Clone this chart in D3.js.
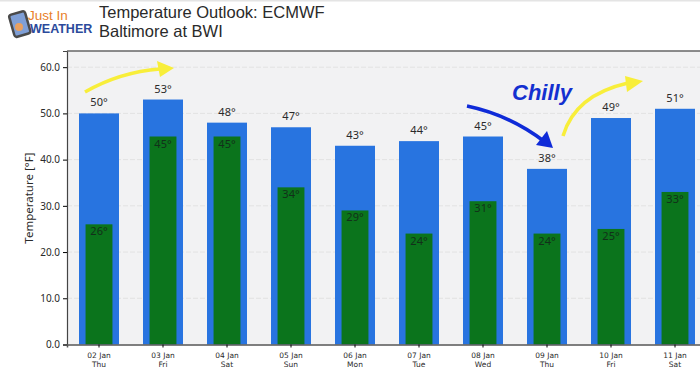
<!DOCTYPE html>
<html>
<head>
<meta charset="utf-8">
<script src="https://cdn.jsdelivr.net/npm/d3@7"></script>
<style>
  html, body { margin: 0; padding: 0; background: #fff; overflow: hidden; }
  svg { display: block; }
  text { font-family: "Noto Sans", sans-serif; fill: #2a2a2a; }
</style>
</head>
<body>
<div id="chart"></div>
<script>
var dates = ["02 Jan", "03 Jan", "04 Jan", "05 Jan", "06 Jan", "07 Jan", "08 Jan", "09 Jan", "10 Jan", "11 Jan"];
var days = ["Thu", "Fri", "Sat", "Sun", "Mon", "Tue", "Wed", "Thu", "Fri", "Sat"];
var highs = [50, 53, 48, 47, 43, 44, 45, 38, 49, 51];
var lows = [26, 45, 45, 34, 29, 24, 31, 24, 25, 33];
var yTicks = [0, 10, 20, 30, 40, 50, 60];

var svgWidth = 700;
var svgHeight = 367;

var margin = { top: 51, right: -7, bottom: 22.5, left: 67 };
var width = svgWidth - margin.left - margin.right;
var height = svgHeight - margin.top - margin.bottom;

var svg = d3.select("#chart")
  .append("svg")
  .attr("width", svgWidth)
  .attr("height", svgHeight);

// thin grey strip along the top of the picture
svg.append("rect").attr("width", svgWidth).attr("height", 1.5).attr("fill", "#e4e4e4");

var chartGroup = svg.append("g")
  .attr("transform", `translate(${margin.left}, ${margin.top})`);

var xScale = d3.scaleBand().domain(dates).range([0, width]);
var yScale = d3.scaleLinear().domain([0, 63.5]).range([height, 0]);

var highWidth = xScale.step() * 0.625;
var lowWidth = xScale.step() * 0.42;

chartGroup.append("rect")
  .attr("width", width)
  .attr("height", height)
  .attr("fill", "#f2f2f3");

// Grid
chartGroup.selectAll(".grid").data(yTicks.slice(1)).enter()
  .append("line")
  .attr("x1", 0)
  .attr("x2", width)
  .attr("y1", d => yScale(d))
  .attr("y2", d => yScale(d))
  .attr("stroke", "#e2e2e2")
  .attr("stroke-dasharray", "5,2");

// Bars
chartGroup.selectAll(".high").data(highs).enter()
  .append("rect")
  .attr("x", (d, i) => xScale(dates[i]) + (xScale.step() - highWidth) / 2)
  .attr("y", d => yScale(d))
  .attr("width", highWidth)
  .attr("height", d => height - yScale(d))
  .attr("fill", "#2874e0");

chartGroup.selectAll(".low").data(lows).enter()
  .append("rect")
  .attr("x", (d, i) => xScale(dates[i]) + (xScale.step() - lowWidth) / 2)
  .attr("y", d => yScale(d))
  .attr("width", lowWidth)
  .attr("height", d => height - yScale(d))
  .attr("fill", "#0b741c");

// Value labels
chartGroup.selectAll(".highLabel").data(highs).enter()
  .append("text")
  .attr("x", (d, i) => xScale(dates[i]) + xScale.step() / 2)
  .attr("y", d => yScale(d) - 7)
  .attr("text-anchor", "middle")
  .attr("font-size", 11)
  .text(d => d + "°");

chartGroup.selectAll(".lowLabel").data(lows).enter()
  .append("text")
  .attr("x", (d, i) => xScale(dates[i]) + xScale.step() / 2)
  .attr("y", d => yScale(d) + 11)
  .attr("text-anchor", "middle")
  .attr("font-size", 11)
  .style("fill", "#12301a")
  .text(d => d + "°");

// Axes
var leftAxis = d3.axisLeft(yScale).tickValues(yTicks).tickFormat(d3.format(".1f")).tickSize(4);
var bottomAxis = d3.axisBottom(xScale).tickSize(3).tickFormat("");

var yAxisGroup = chartGroup.append("g").call(leftAxis);
yAxisGroup.selectAll("text").attr("font-size", 10).style("font-family", "Noto Sans, sans-serif").style("fill", "#2a2a2a");
yAxisGroup.select(".domain").attr("stroke", "#444").attr("stroke-width", 1.2);

var xAxisGroup = chartGroup.append("g")
  .attr("transform", `translate(0, ${height})`)
  .call(bottomAxis);
xAxisGroup.select(".domain").attr("stroke", "#555").attr("stroke-width", 1.5);

xAxisGroup.selectAll(".tick").each(function(d, i) {
  var t = d3.select(this);
  t.append("text").attr("y", 13).attr("text-anchor", "middle").attr("font-size", 7.5).style("font-family", "DejaVu Sans, sans-serif").text(d);
  t.append("text").attr("y", 22).attr("text-anchor", "middle").attr("font-size", 7.5).style("font-family", "DejaVu Sans, sans-serif").text(days[i]);
});

chartGroup.append("line")
  .attr("x1", 0).attr("x2", width)
  .attr("stroke", "#666").attr("stroke-width", 1.5);

svg.append("text")
  .attr("transform", "translate(33, 198) rotate(-90)")
  .attr("text-anchor", "middle")
  .attr("font-size", 11.5)
  .text("Temperature [°F]");

// Title
svg.append("text").attr("x", 99).attr("y", 18)
  .attr("font-size", 16.5).style("font-family", "Liberation Sans, sans-serif").text("Temperature Outlook: ECMWF");
svg.append("text").attr("x", 99).attr("y", 37)
  .attr("font-size", 16.5).style("font-family", "Liberation Sans, sans-serif").text("Baltimore at BWI");

// Logo
var logo = svg.append("g");
logo.append("rect").attr("x", 11.5).attr("y", 12.5).attr("width", 16.5).attr("height", 23).attr("rx", 2.5)
  .attr("transform", "rotate(-16 20 24)")
  .attr("fill", "#7f9fd6").attr("stroke", "#4a4a4a").attr("stroke-width", 2.5);
logo.append("circle").attr("cx", 19).attr("cy", 27).attr("r", 4).attr("fill", "#e9a060");
logo.append("text").attr("x", 28).attr("y", 20)
  .attr("font-size", 13.5)
  .style("font-family", "Liberation Sans, sans-serif").style("fill", "#e8802a").text("Just In");
logo.append("text").attr("x", 30).attr("y", 33)
  .attr("font-size", 12.5).attr("font-weight", "bold")
  .style("font-family", "Liberation Sans, sans-serif").style("fill", "#2b4a9b").text("WEATHER");

// Annotation arrows
function arrow(d, head, color) {
  svg.append("path").attr("d", d).attr("fill", "none").attr("stroke", color).attr("stroke-width", 3.5);
  svg.append("path").attr("d", head).attr("fill", color);
}
arrow("M85,92 Q120,72 160,69", "M157,61 L174,68 L160,77 Z", "#f8ee3a");
arrow("M467,106 Q510,115 545,142", "M547,131 L553,148 L536,145 Z", "#0f2bd8");
arrow("M563,136 Q575,95 628,83", "M625,76 L643,81 L627,92 Z", "#f8ee3a");

svg.append("text").attr("x", 512).attr("y", 100)
  .attr("font-size", 22).attr("font-weight", "bold").attr("font-style", "italic")
  .style("font-family", "Liberation Sans, sans-serif").style("fill", "#1330d0").text("Chilly");
</script>
</body>
</html>
